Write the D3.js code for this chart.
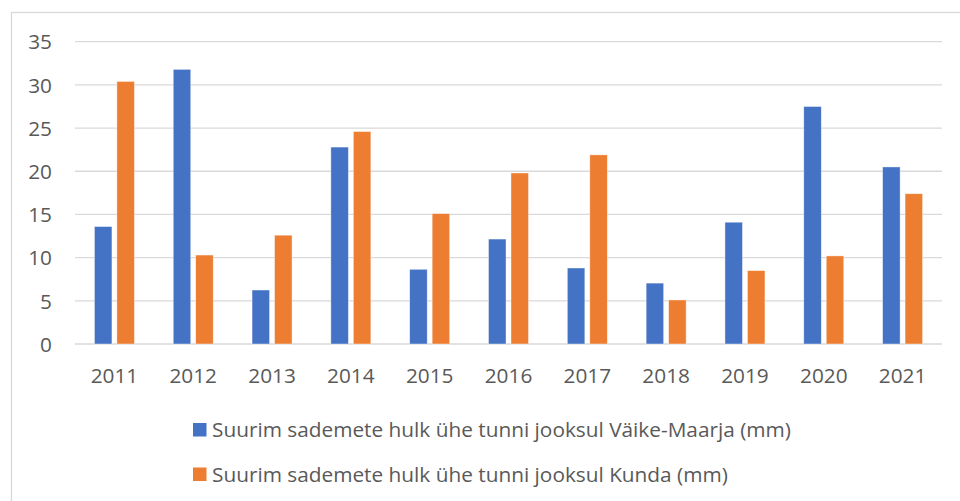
<!DOCTYPE html>
<html>
<head>
<meta charset="utf-8">
<script src="https://cdn.jsdelivr.net/npm/d3@7"></script>
<style>
  body { margin: 0; background: #fff; }
  text { font-family: "Open Sans", sans-serif; fill: #595959; }
</style>
</head>
<body>
<div id="chart"></div>
<script>
// data
var years = ["2011", "2012", "2013", "2014", "2015", "2016", "2017", "2018", "2019", "2020", "2021"];
var vaikeMaarja = [13.6, 31.8, 6.25, 22.8, 8.65, 12.15, 8.8, 7.05, 14.1, 27.5, 20.5];
var kunda = [30.4, 10.3, 12.6, 24.6, 15.1, 19.8, 21.9, 5.1, 8.5, 10.2, 17.4];
var seriesNames = [
  "Suurim sademete hulk ühe tunni jooksul Väike-Maarja (mm)",
  "Suurim sademete hulk ühe tunni jooksul Kunda (mm)"
];
var colors = ["#4472C4", "#ED7D31"];
var yTicks = [0, 5, 10, 15, 20, 25, 30, 35];

var width = 960, height = 501;
var margin = { top: 41.7, right: 18, bottom: 157, left: 75 };
var fontSize = "20.8px";

var svg = d3.select("#chart").append("svg")
  .attr("width", width)
  .attr("height", height);

// chart area border
svg.append("rect")
  .attr("x", 11.5).attr("y", 12.5)
  .attr("width", 980).attr("height", 520)
  .attr("fill", "none")
  .attr("stroke", "#d9d9d9")
  .attr("stroke-width", 1.3);

var x0 = d3.scaleBand()
  .domain(years)
  .range([margin.left, width - margin.right]);

var x1 = d3.scaleBand()
  .domain([0, 1])
  .range([0, 40])
  .paddingInner(0.22);

var y = d3.scaleLinear()
  .domain([0, 35])
  .range([height - margin.bottom, margin.top]);

// gridlines
svg.append("g")
  .selectAll("line")
  .data(yTicks)
  .enter().append("line")
  .attr("x1", margin.left)
  .attr("x2", width - margin.right)
  .attr("y1", function(d) { return y(d); })
  .attr("y2", function(d) { return y(d); })
  .attr("stroke", "#d9d9d9")
  .attr("stroke-width", 1.3);

// y axis labels
var yAxis = svg.append("g")
  .attr("transform", "translate(" + 52 + ",0)")
  .call(d3.axisLeft(y).tickValues(yTicks).tickSize(0).tickPadding(0));
yAxis.select(".domain").remove();
yAxis.selectAll("text")
  .attr("dy", "0.35em")
  .style("font-size", fontSize)
  .style("font-family", "'Open Sans', sans-serif")
  .attr("fill", "#595959");

// x axis labels
var xAxis = svg.append("g")
  .attr("transform", "translate(0," + y(0) + ")")
  .call(d3.axisBottom(x0).tickSize(0).tickPadding(24));
xAxis.select(".domain").remove();
xAxis.selectAll("text")
  .style("font-size", fontSize)
  .style("font-family", "'Open Sans', sans-serif")
  .attr("fill", "#595959");

// bars
var series = [vaikeMaarja, kunda];
series.forEach(function(vals, s) {
  svg.append("g")
    .selectAll("rect")
    .data(years)
    .enter().append("rect")
    .attr("x", function(d) { return x0(d) + x0.bandwidth() / 2 - 20 + x1(s); })
    .attr("y", function(d, i) { return y(vals[i]); })
    .attr("width", x1.bandwidth())
    .attr("height", function(d, i) { return y(0) - y(vals[i]); })
    .attr("fill", colors[s])
    .attr("stroke", "#fff")
    .attr("stroke-opacity", 0.6)
    .attr("stroke-width", 0.7);
});

// legend
var legend = svg.append("g")
  .selectAll("g")
  .data(seriesNames)
  .enter().append("g")
  .attr("transform", function(d, i) { return "translate(193," + (423 + i * 44.5) + ")"; });

legend.append("rect")
  .attr("width", 13.5).attr("height", 13.5)
  .attr("fill", function(d, i) { return colors[i]; });

legend.append("text")
  .attr("x", 19)
  .attr("y", 7)
  .attr("dy", "0.35em")
  .style("font-size", fontSize)
  .text(function(d) { return d; });
</script>
</body>
</html>
